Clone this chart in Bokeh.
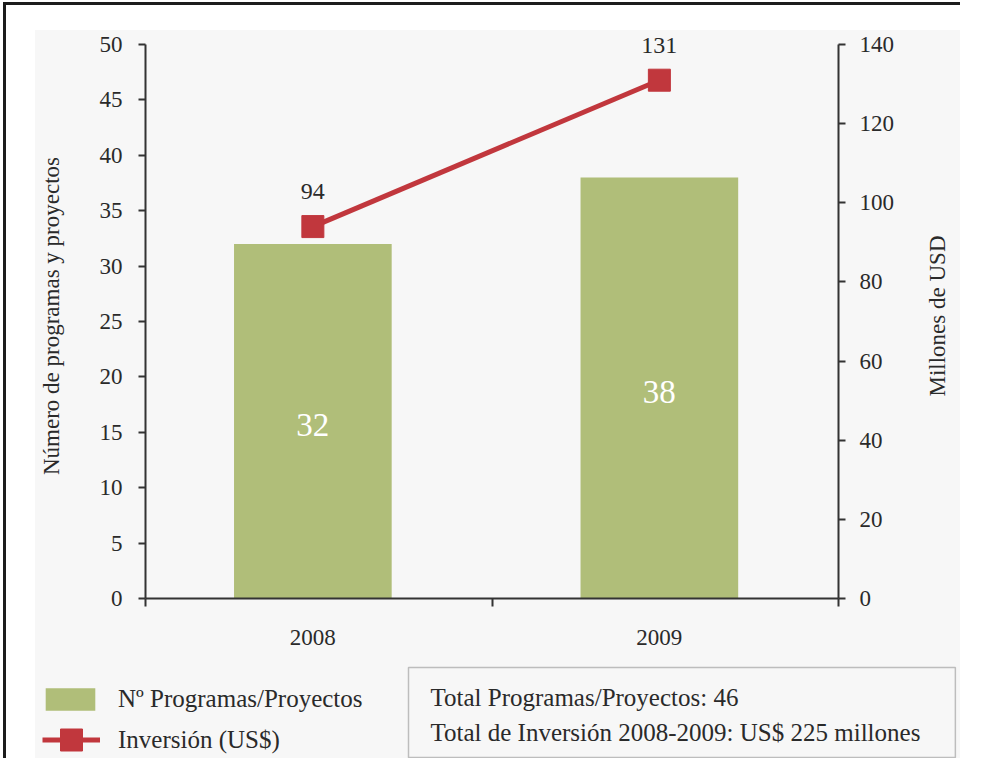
from bokeh.plotting import figure
from bokeh.models import (Range1d, LinearAxis, FixedTicker, Legend, LegendItem,
                          Label, LabelSet, ColumnDataSource)
from bokeh.transform import dodge
from bokeh.layouts import column, row
from bokeh.embed import file_html
from bokeh.resources import INLINE

# ---- data ----
years = ["2008", "2009"]
programas = [32, 38]
inversion = [94, 131]
left_ticks = [0, 5, 10, 15, 20, 25, 30, 35, 40, 45, 50]
right_ticks = [0, 20, 40, 60, 80, 100, 120, 140]
legend_labels = ["Nº Programas/Proyectos", "Inversión (US$)"]
box_lines = ["Total Programas/Proyectos: 46",
             "Total de Inversión 2008-2009: US$ 225 millones"]
left_title = "Número de programas y proyectos"
right_title = "Millones de USD"

FONT = "Liberation Serif"
TXT = "#2a2a2a"
AX = "#333333"
GREEN = "#B0BE79"
RED = "#C1373D"
BG = "#F7F7F7"

LEFT_MAX, RIGHT_MAX = left_ticks[-1], right_ticks[-1]
PAD = 1.02          # headroom above the axes so top labels are not clipped
SHIFT = -0.017      # categories sit slightly left of the slot centres

xs = [i + 0.5 for i in range(len(years))]
tick_pos = [x + SHIFT for x in xs]
src = ColumnDataSource(dict(
    x=xs, prog=programas, inv=inversion,
    prog_lbl=[str(v) for v in programas],
    inv_lbl=[str(v) for v in inversion],
    prog_mid=[v / 2 for v in programas],
))

MAIN_H, TOP, BOTTOM = 630, 3, 62

p = figure(width=863, height=MAIN_H, output_backend="svg", toolbar_location=None,
           x_range=Range1d(0, len(years)), y_range=Range1d(0, LEFT_MAX * PAD),
           min_border_left=108, min_border_right=60, min_border_top=TOP,
           min_border_bottom=BOTTOM,
           background_fill_color=BG, border_fill_color=BG,
           outline_line_color=None)
p.extra_y_ranges = {"usd": Range1d(0, RIGHT_MAX * PAD)}
p.grid.visible = False
if "frame_align" in p.properties():
    p.frame_align = False

# bottom axis
xa = p.xaxis[0]
xa.ticker = FixedTicker(ticks=tick_pos, minor_ticks=list(range(len(years) + 1)))
xa.major_label_overrides = {t: y for t, y in zip(tick_pos, years)}
xa.major_tick_out = 0
xa.major_tick_in = 0
xa.minor_tick_out = 8
xa.minor_tick_in = 0
xa.minor_tick_line_color = AX
xa.minor_tick_line_width = 2
xa.axis_line_color = AX
xa.axis_line_width = 2
xa.major_label_standoff = 23
xa.major_label_text_font = FONT
xa.major_label_text_font_size = "23px"
xa.major_label_text_color = TXT

def style_y(ax, standoff, top):
    ax.bounds = (0, top)
    ax.major_tick_out = 7
    ax.major_tick_in = 0
    ax.minor_tick_out = 0
    ax.minor_tick_in = 0
    ax.minor_tick_line_color = None
    ax.major_tick_line_color = AX
    ax.major_tick_line_width = 2
    ax.axis_line_color = AX
    ax.axis_line_width = 2
    ax.major_label_standoff = standoff
    ax.major_label_text_font = FONT
    ax.major_label_text_font_size = "23px"
    ax.major_label_text_color = TXT

def style_title(ax, title, standoff):
    ax.axis_label = title
    ax.axis_label_text_font = FONT
    ax.axis_label_text_font_size = "23px"
    ax.axis_label_text_font_style = "normal"
    ax.axis_label_text_color = TXT
    ax.axis_label_standoff = standoff

ya = p.yaxis[0]
ya.ticker = FixedTicker(ticks=left_ticks)
style_y(ya, 16, LEFT_MAX)
style_title(ya, left_title, 33)

ra = LinearAxis(y_range_name="usd", ticker=FixedTicker(ticks=right_ticks))
style_y(ra, 14, RIGHT_MAX)
p.add_layout(ra, "right")

xd = dodge("x", SHIFT, range=p.x_range)

bar_kw = dict(width=0.455, fill_color=GREEN, line_color=None)
line_kw = dict(line_color=RED, line_width=5)
mk_kw = dict(marker="square", size=22, fill_color=RED, line_color=RED)

p.vbar(x=xd, top="prog", source=src, **bar_kw)
p.line(x=xd, y="inv", source=src, y_range_name="usd", **line_kw)
p.scatter(x=xd, y="inv", source=src, y_range_name="usd", **mk_kw)

# value labels
p.add_layout(LabelSet(x=xd, y="prog_mid", text="prog_lbl", source=src,
                      text_align="center", text_baseline="middle", y_offset=-4,
                      text_font=FONT, text_font_size="33px", text_color="white"))
p.add_layout(LabelSet(x=xd, y="inv", text="inv_lbl", source=src,
                      y_range_name="usd",
                      text_align="center", text_baseline="middle", y_offset=35,
                      text_font=FONT, text_font_size="24px", text_color=TXT))

# ---- right-hand title strip: an axis title reading bottom-to-top ----
p3 = figure(width=62, height=MAIN_H, output_backend="svg", toolbar_location=None,
            x_range=Range1d(0, 1), y_range=Range1d(0, RIGHT_MAX * PAD),
            x_axis_location=None,
            min_border_left=51, min_border_right=0, min_border_top=TOP,
            min_border_bottom=BOTTOM,
            background_fill_color=BG, border_fill_color=BG,
            outline_line_color=None)
p3.grid.visible = False
if "frame_align" in p3.properties():
    p3.frame_align = False
ta = p3.yaxis[0]
ta.ticker = FixedTicker(ticks=[])
ta.axis_line_color = None
ta.major_tick_line_color = None
ta.minor_tick_line_color = None
ta.major_tick_out = 0
ta.major_tick_in = 0
ta.minor_tick_out = 0
ta.minor_tick_in = 0
ta.major_label_standoff = 0
style_title(ta, right_title, 0)

# ---- legend strip (second figure, same background) ----
W = 925
p2 = figure(width=W, height=98, output_backend="svg", toolbar_location=None,
            x_range=Range1d(10, 11), y_range=Range1d(1000, 1001),
            x_axis_location=None, y_axis_location=None,
            min_border=0, min_border_left=0, min_border_right=0,
            min_border_top=0, min_border_bottom=0,
            background_fill_color=BG, border_fill_color=BG,
            outline_line_color=None)
p2.grid.visible = False
if "frame_align" in p2.properties():
    p2.frame_align = False
# legend swatches reuse the series (kept outside this strip's visible range)
lb = p2.vbar(x="x", top="prog", source=src, **bar_kw)
ll = p2.line(x="x", y="inv", source=src, **line_kw)
lm = p2.scatter(x="x", y="inv", source=src, **mk_kw)

def mk_legend(fig, items, loc, gw, gh, standoff):
    lg = Legend(items=items, location=loc, orientation="vertical",
                glyph_width=gw, glyph_height=gh, label_height=gh,
                label_standoff=standoff, padding=0, margin=0, spacing=0,
                border_line_color=None, background_fill_alpha=0,
                label_text_font=FONT, label_text_font_size="25px",
                label_text_color=TXT, label_text_baseline="middle")
    fig.add_layout(lg)

mk_legend(p2, [LegendItem(label=legend_labels[0], renderers=[lb])],
          (4, 45), 62, 28, 17)
mk_legend(p2, [LegendItem(label=legend_labels[1], renderers=[ll, lm])],
          (7, -9), 58, 55, 18)

p2.add_layout(Label(x=373, y=91, x_units="screen", y_units="screen",
                    anchor="top_left", text="\n".join(box_lines),
                    text_font=FONT, text_font_size="25px", text_color=TXT,
                    text_line_height=1.3,
                    padding=dict(left=22, right=35, top=16, bottom=12),
                    border_line_color="#BDBDBD", border_line_width=1.5,
                    background_fill_color=BG))

inner = column(row(p, p3, spacing=0), p2, spacing=0,
               styles={"background-color": BG})
layout = column(inner, styles={
    "border-top": "3px solid #1c1c1c",
    "border-left": "3px solid #1c1c1c",
    "margin-left": "3px",
    "margin-top": "2px",
    "padding-left": "29px",
    "padding-top": "25px",
    "background-color": "white",
})

open("out.html", "w").write(file_html(layout, INLINE))
